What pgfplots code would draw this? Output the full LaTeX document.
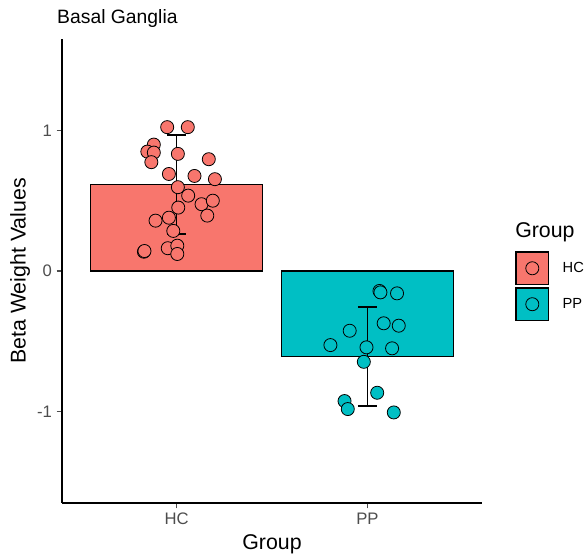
\documentclass[border=0pt]{standalone}
\usepackage{pgfplots}
\pgfplotsset{compat=1.18}
\usepackage{pgfplotstable}
\usepackage{fontspec}
\setmainfont{Liberation Sans}
\definecolor{hc}{HTML}{F8766D}
\definecolor{pp}{HTML}{00BFC4}
\definecolor{tickgray}{HTML}{4D4D4D}

\pgfplotstableread{
x y
0.951 1.023
1.059 1.023
0.881 0.899
0.847 0.849
0.881 0.842
0.868 0.774
1.007 0.833
1.169 0.795
0.960 0.690
1.094 0.676
1.201 0.653
1.007 0.596
1.061 0.536
1.131 0.475
1.190 0.500
1.009 0.451
1.161 0.394
0.890 0.358
0.960 0.379
0.983 0.285
0.829 0.137
0.832 0.142
0.954 0.162
1.004 0.180
1.004 0.121
}\hcpts

\pgfplotstableread{
x y
2.063 -0.142
2.068 -0.152
2.155 -0.159
2.085 -0.372
2.164 -0.389
1.907 -0.425
1.806 -0.527
1.995 -0.543
2.129 -0.550
1.981 -0.646
2.051 -0.866
1.880 -0.925
1.897 -0.982
2.138 -1.006
}\pppts

\begin{document}
\begin{tikzpicture}
\begin{axis}[
 name=ax,
 scale only axis, width=315pt, height=348pt,
 xmin=0.4, xmax=2.6, ymin=-1.65, ymax=1.65,
 axis x line*=bottom, axis y line*=left,
 axis line style={black, line width=0.9pt},
 xtick={1,2}, xticklabels={HC,PP},
 ytick={-1,0,1}, yticklabels={-1,0,1},
 tick align=outside, major tick length=4pt,
 tick style={tickgray, line width=0.8pt},
 ticklabel style={text=tickgray, font=\fontsize{12.5}{14}\selectfont},
 xlabel={Group}, ylabel={Beta Weight Values},
 label style={font=\fontsize{16}{19}\selectfont},
 xlabel style={at={(axis description cs:0.5,-0.09)}, anchor=center},
 ylabel style={at={(axis description cs:-0.1,0.5)}, anchor=center},
 title={Basal Ganglia},
 title style={at={(axis description cs:-0.012,1.027)}, anchor=west, inner sep=0pt, font=\fontsize{14.5}{17}\selectfont},
 clip=false,
 legend cell align=left,
 legend style={at={(axis description cs:1.0786,0.543)}, anchor=north west,
   draw=none, fill=none, inner sep=0pt, row sep=1.5pt,
   nodes={inner sep=0pt, font=\fontsize{11}{13}\selectfont},
   /tikz/every odd column/.append style={column sep=10pt}},
]
\addplot[ybar, bar width=0.9, bar shift=0pt, fill=hc, draw=black, line width=1.05pt, forget plot] coordinates {(1,0.6155)};
\addplot[ybar, bar width=0.9, bar shift=0pt, fill=pp, draw=black, line width=1.05pt, forget plot] coordinates {(2,-0.6085)};
\addplot[only marks, mark=*, mark size=4.9pt, mark options={fill=hc, draw=black, line width=0.6pt}, forget plot] table[x=x,y=y] {\hcpts};
\addplot[only marks, mark=*, mark size=4.9pt, mark options={fill=pp, draw=black, line width=0.6pt}, forget plot] table[x=x,y=y] {\pppts};
% error bars
\addplot[black, line width=1.4pt, forget plot] coordinates {(1,0.263) (1,0.968)};
\addplot[black, line width=1.4pt, forget plot] coordinates {(0.95,0.968) (1.05,0.968)};
\addplot[black, line width=1.4pt, forget plot] coordinates {(0.95,0.263) (1.05,0.263)};
\addplot[black, line width=1.4pt, forget plot] coordinates {(2,-0.959) (2,-0.258)};
\addplot[black, line width=1.4pt, forget plot] coordinates {(1.95,-0.258) (2.05,-0.258)};
\addplot[black, line width=1.4pt, forget plot] coordinates {(1.95,-0.959) (2.05,-0.959)};
\addlegendimage{legend image code/.code={\draw[fill=hc, draw=black, line width=1.05pt] (0pt,-12.2pt) rectangle (24.5pt,12.2pt); \draw[black, line width=0.6pt] (12.25pt,0pt) circle (4.9pt);}}
\addlegendentry{HC}
\addlegendimage{legend image code/.code={\draw[fill=pp, draw=black, line width=1.05pt] (0pt,-12.2pt) rectangle (24.5pt,12.2pt); \draw[black, line width=0.6pt] (12.25pt,0pt) circle (4.9pt);}}
\addlegendentry{PP}
\node[anchor=west, font=\fontsize{16}{19}\selectfont, inner sep=0pt] at (axis description cs:1.0786,0.584) {Group};
\end{axis}
\path (ax.south west) ++(-46.5pt,-42pt) rectangle ++(440.25pt,419.25pt);
\end{tikzpicture}
\end{document}
